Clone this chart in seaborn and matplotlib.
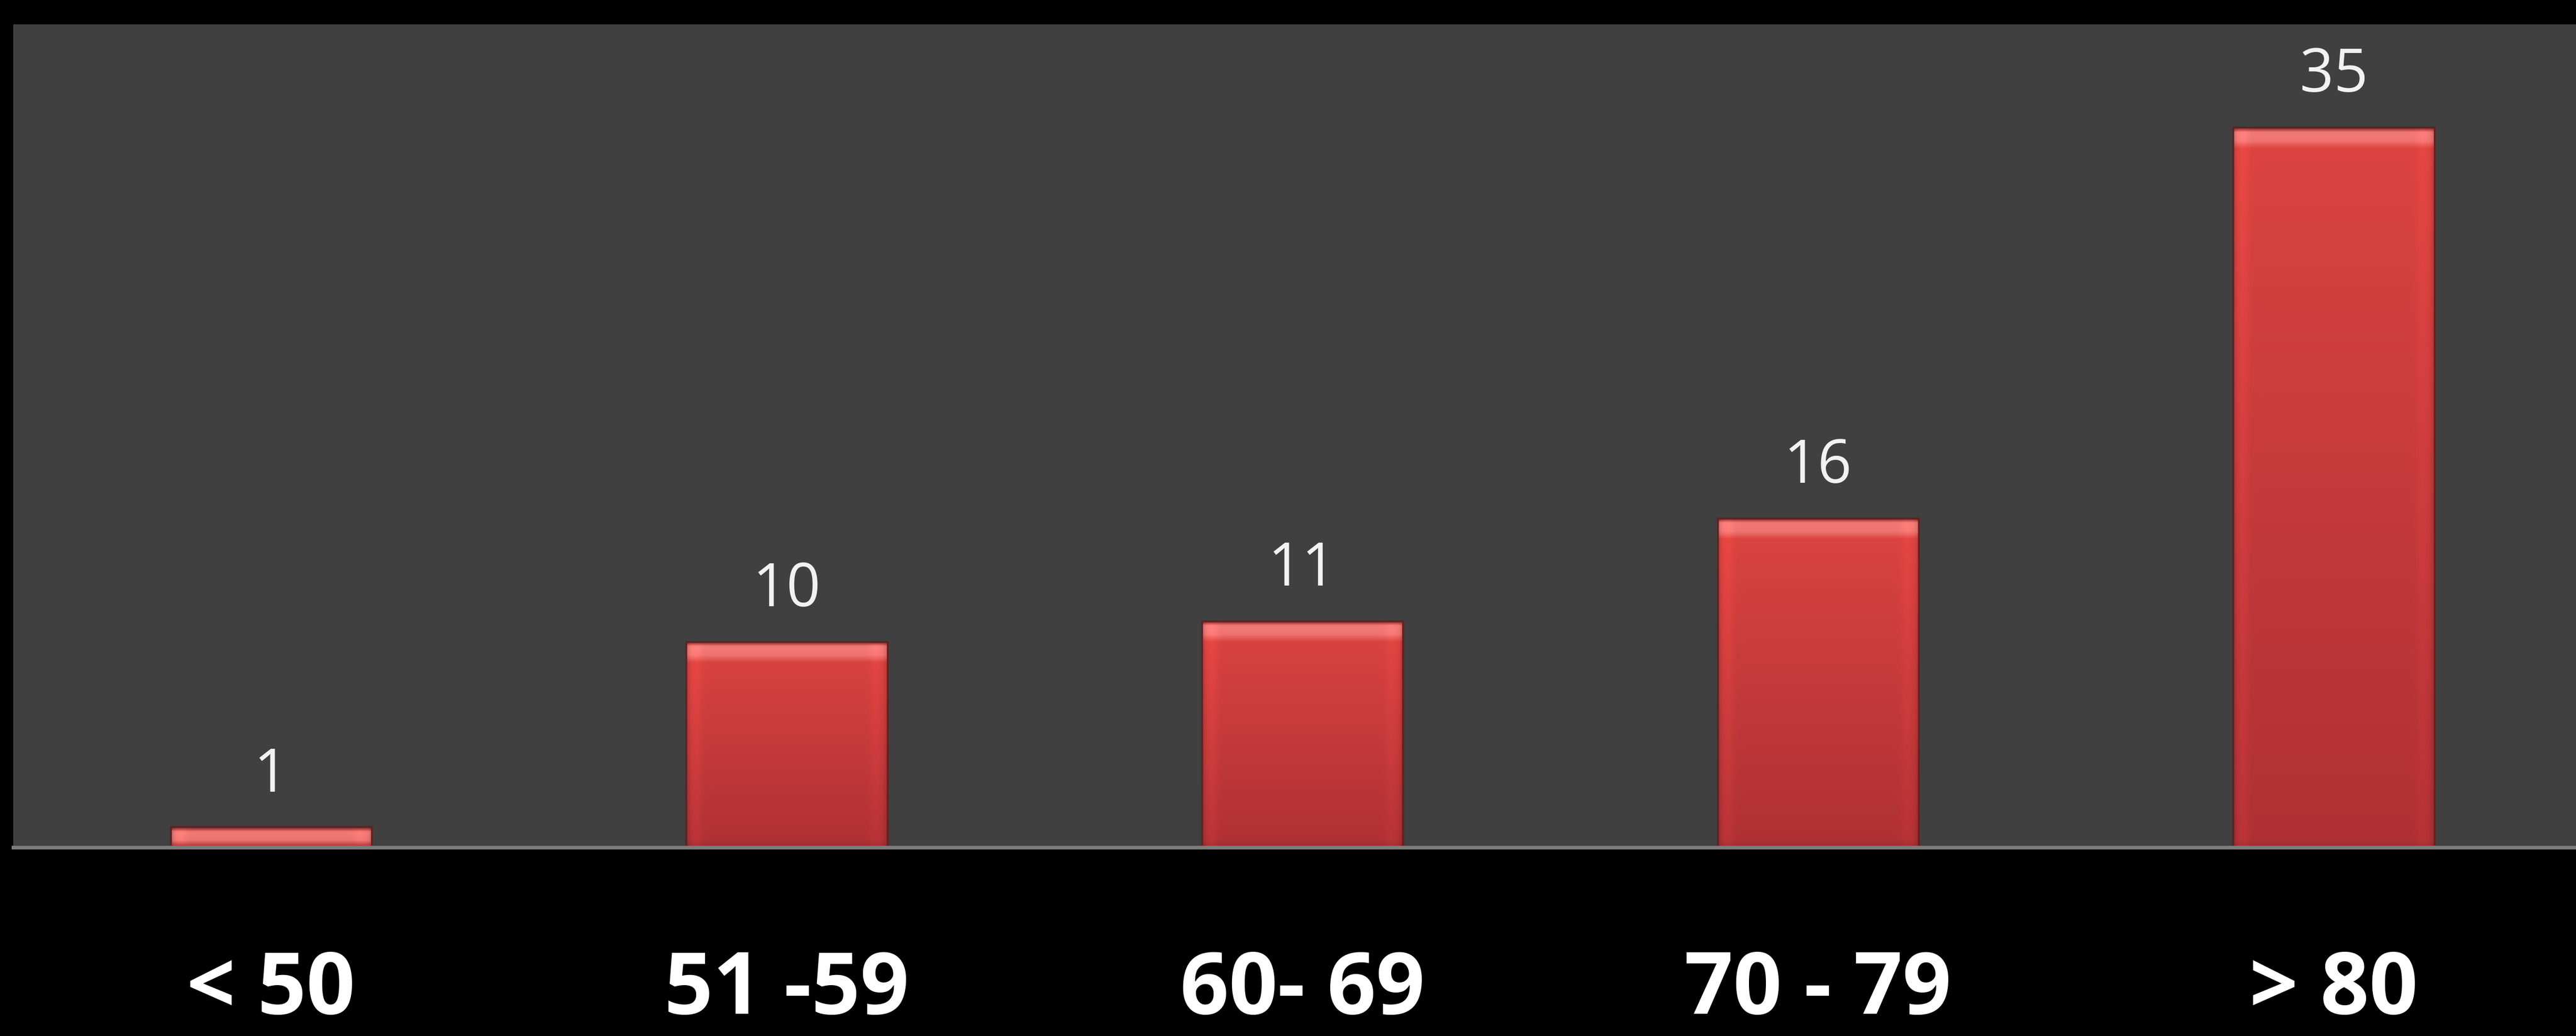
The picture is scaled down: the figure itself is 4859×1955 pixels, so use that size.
import numpy as np
import pandas as pd
import matplotlib
matplotlib.use("Agg")
import matplotlib.pyplot as plt
import seaborn as sns
from matplotlib.colors import to_rgb

# Patients per age group
age_groups = ["< 50", "51 -59", "60- 69", "70 - 79", "> 80"]
patients = [1, 10, 11, 16, 35]

W, H, DPI = 4859, 1955, 100

sns.set_theme(style="dark")
plt.rcParams["font.family"] = ["Open Sans", "DejaVu Sans"]

fig = plt.figure(figsize=(W / DPI, H / DPI), dpi=DPI, facecolor="black")
ax = fig.add_axes([25 / W, 1 - 1599 / H, 1 - 25 / W, (1599 - 46) / H])
ax.set_facecolor("#404040")

df = pd.DataFrame({"age": age_groups, "n": patients})
sns.barplot(data=df, x="age", y="n", order=age_groups, color="#d8403c",
            saturation=1, width=0.39, edgecolor="#5e2222", linewidth=2.5,
            ax=ax)

ax.set_ylim(0, 40)
ax.set_xlim(-0.5, 4.47)
ax.set_xlabel("")
ax.set_ylabel("")
ax.set_yticks([])
ax.grid(False)
for side in ("left", "right", "top"):
    ax.spines[side].set_visible(False)
ax.spines["bottom"].set_color("#7c7c7c")
ax.spines["bottom"].set_linewidth(5)
ax.spines["bottom"].set_zorder(5)

# Glossy red fill for every bar: pink highlight at the top, darker towards the base
px_per_unit = ax.bbox.height / 40.0
pink = np.array(to_rgb("#f27c78"))
dark = np.array(to_rgb("#6a2424"))
top_red = np.array(to_rgb("#dc4440"))
bot_red = np.array(to_rgb("#ae3034"))

for patch in list(ax.patches):
    bx, by = patch.get_x(), patch.get_y()
    bw, bh = patch.get_width(), patch.get_height()
    hpx = bh * px_per_unit
    n = max(int(round(hpx)), 4)
    m = 200
    d = (np.arange(n) + 0.5) * hpx / n
    t = np.clip(d / max(hpx, 1), 0, 1)[:, None]
    col = top_red * (1 - t) + bot_red * t
    a_pink = np.interp(d, [0, 8, 12, 26, 40], [0.0, 0.85, 0.95, 0.85, 0.0])[:, None]
    col = col * (1 - a_pink) + pink * a_pink
    a_dark = np.interp(d, [0, 4, 9], [0.9, 0.5, 0.0])[:, None]
    col = col * (1 - a_dark) + dark * a_dark
    a_base = np.interp(hpx - d, [0, 6, 14], [0.35, 0.15, 0.0])[:, None]
    col = col * (1 - a_base) + dark * a_base
    u = (np.arange(m) + 0.5) / m
    bright = (1 + 0.07 * np.exp(-((u - 0.05) / 0.03) ** 2)
              + 0.05 * np.exp(-((u - 0.94) / 0.03) ** 2)
              - 0.10 * np.exp(-((u - 0.005) / 0.012) ** 2)
              - 0.10 * np.exp(-((u - 0.995) / 0.012) ** 2))
    img = np.clip(col[:, None, :] * bright[None, :, None], 0, 1)
    im = ax.imshow(img, extent=(bx, bx + bw, by, by + bh), origin="upper",
                   aspect="auto", interpolation="bilinear", zorder=2.5)
    im.set_clip_path(patch)
    patch.set_facecolor("none")
    patch.set_zorder(3)

ax.set_xlim(-0.5, 4.47)
ax.set_ylim(0, 40)

# Value labels above the bars
for i, v in enumerate(patients):
    ax.annotate(str(v), (i, v), xytext=(0, 48), textcoords="offset points",
                ha="center", va="baseline", color="#f2f2f2", fontsize=81,
                zorder=6)

# Category labels below the axis
ax.tick_params(axis="x", length=0, pad=226, labelsize=116, labelcolor="white")
for lbl in ax.get_xticklabels():
    lbl.set_fontweight("bold")
    lbl.set_va("baseline")

fig.savefig("out.png", dpi=DPI, facecolor="black")
